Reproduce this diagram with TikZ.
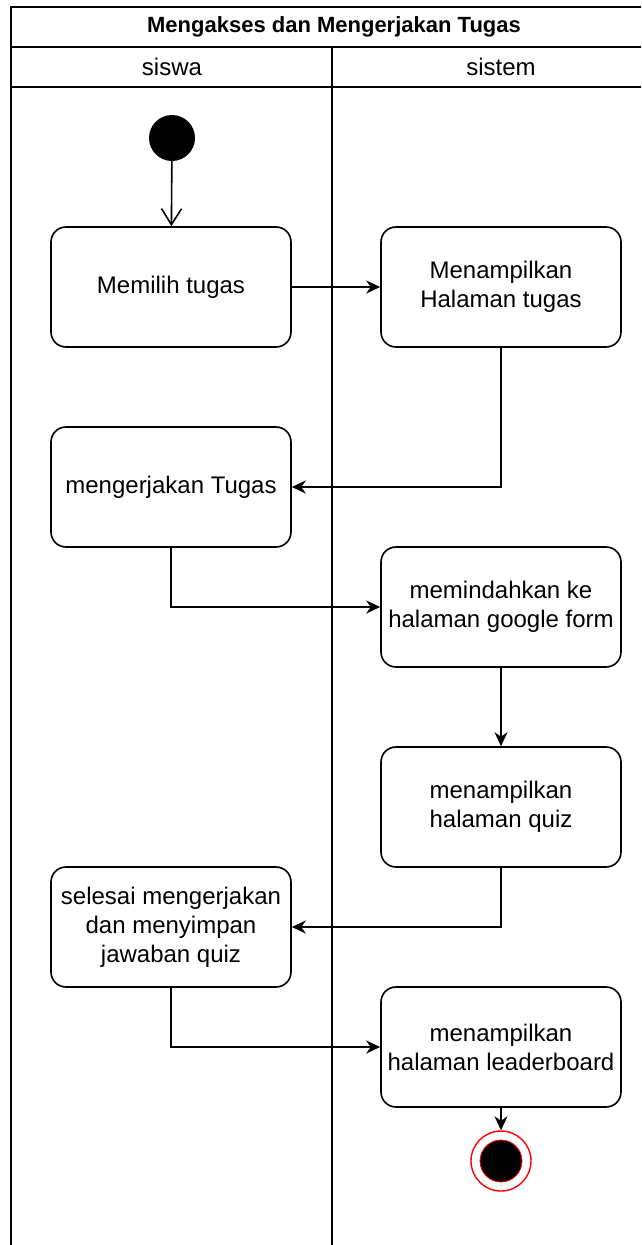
\documentclass[tikz,border=0pt]{standalone}
\usepackage{fontspec}
\setmainfont{Liberation Sans}
\usetikzlibrary{arrows.meta}
\tikzset{
  actbox/.style={draw, rounded corners=15pt, minimum width=240pt, minimum height=120pt,
    inner sep=0pt, align=center, font=\fontsize{24}{29}\selectfont, line width=1.6pt},
  flow/.style={-{Stealth[length=14pt,width=13pt]}, line width=1.6pt},
  openflow/.style={-{Straight Barb[length=16pt,width=20pt]}, line width=1.6pt},
}
\begin{document}
\begin{tikzpicture}[x=1pt, y=-1pt]
    \clip (0,0) rectangle (641,1245);
    % pool and lanes
    \draw[line width=1.6pt] (11,1260) -- (11,7) -- (670,7);
    \draw[line width=1.6pt] (11,47) -- (670,47);
    \draw[line width=1.6pt] (11,87) -- (670,87);
    \draw[line width=1.6pt] (332,47) -- (332,1260);
    \node[font=\fontsize{22}{26}\selectfont\bfseries] (judul) at (334,27) {Mengakses dan Mengerjakan Tugas};
    \node[font=\fontsize{24}{29}\selectfont] (siswa) at (172,67) {siswa};
    \node[font=\fontsize{24}{29}\selectfont] (sistem) at (501,67) {sistem};
    % start
    \node[circle, fill=black, minimum size=46pt, inner sep=0pt] (mulai) at (172,138) {};
    % activities
    \node[actbox] (memilih) at (171,287) {Memilih tugas};
    \node[actbox] (halaman) at (501,287) {Menampilkan\\Halaman tugas};
    \node[actbox] (mengerjakan) at (171,487) {mengerjakan Tugas};
    \node[actbox] (google) at (501,607) {memindahkan ke\\halaman google form};
    \node[actbox] (quiz) at (501,807) {menampilkan\\halaman quiz};
    \node[actbox] (selesai) at (171,927) {selesai mengerjakan\\dan menyimpan\\jawaban quiz};
    \node[actbox] (leader) at (501,1047) {menampilkan\\halaman leaderboard};
    % end
    \node[circle, draw=red, fill=white, line width=1.4pt, minimum size=60pt, inner sep=0pt] (akhir) at (501,1161) {};
    \node[circle, draw=red, fill=black, line width=0.8pt, minimum size=42pt, inner sep=0pt] (akhirdalam) at (akhir) {};
    % arrows
    \draw[openflow] (mulai) -- (memilih);
    \draw[flow] (memilih) -- (halaman);
    \draw[flow] (halaman.south) |- (mengerjakan.east);
    \draw[flow] (mengerjakan.south) |- (google.west);
    \draw[flow] (google) -- (quiz);
    \draw[flow] (quiz.south) |- (selesai.east);
    \draw[flow] (selesai.south) |- (leader.west);
    \draw[flow] (leader) -- (akhir);
\end{tikzpicture}
\end{document}
